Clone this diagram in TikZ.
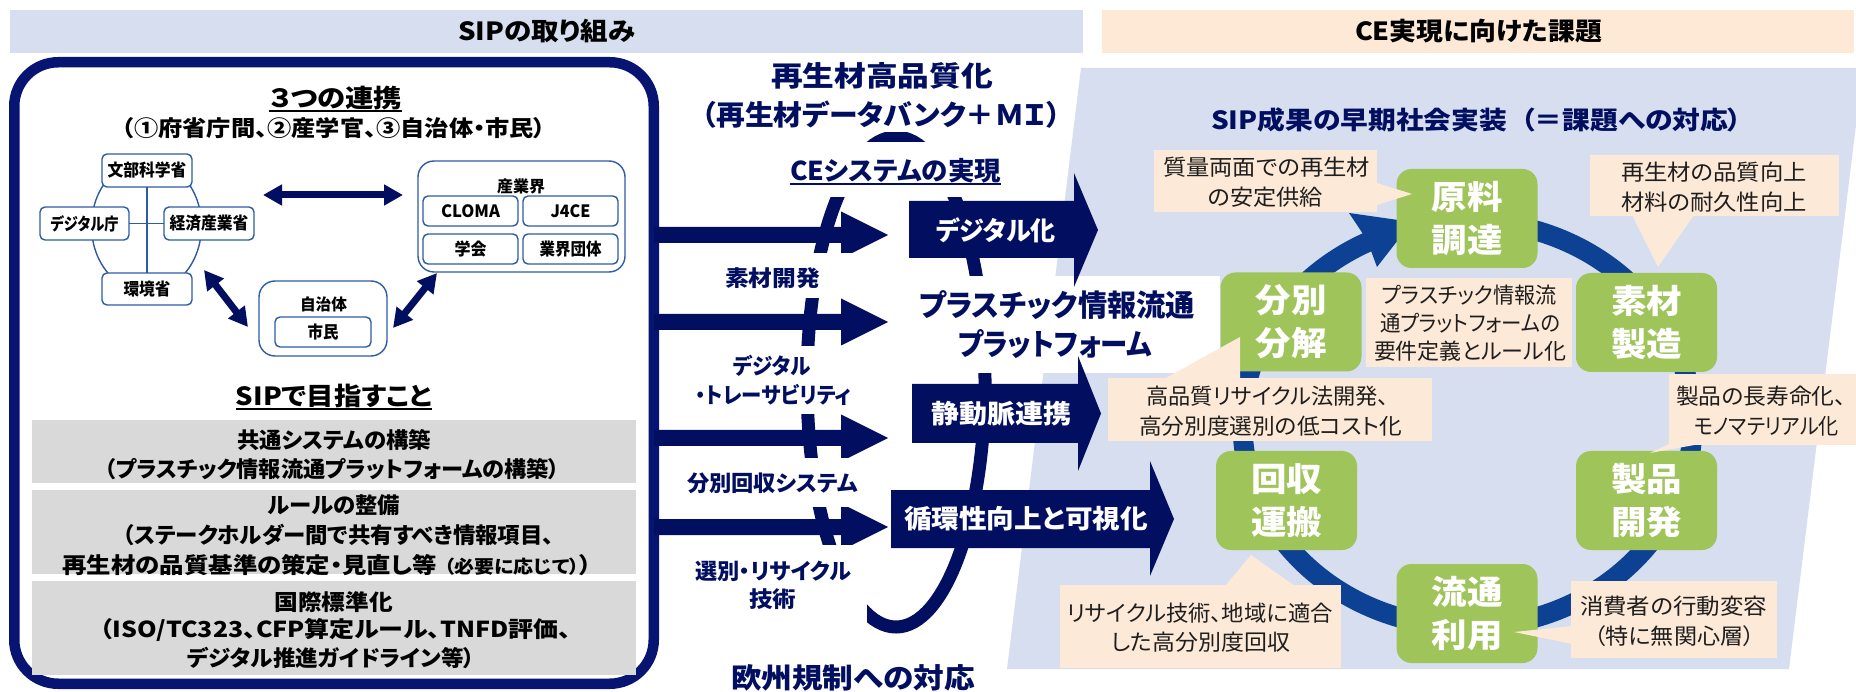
\documentclass[tikz,border=0pt]{standalone}
\usepackage{fontspec}
\usepackage{graphicx}
\usetikzlibrary{arrows.meta,shapes.geometric}
\newfontfamily\jp[RawFeature={+palt}]{Noto Sans CJK JP}
\newcommand\fsz[1]{\fontsize{#1}{#1}\selectfont}
\newcommand\fitw[2]{\resizebox{#1pt}{\height}{#2}}
\definecolor{navy}{HTML}{020F60}
\definecolor{boxnavy}{HTML}{071472}
\definecolor{hdrL}{HTML}{D6DEEF}
\definecolor{hdrR}{HTML}{FDE9D6}
\definecolor{panel}{HTML}{D6DEEF}
\definecolor{peach}{HTML}{FDE9D7}
\definecolor{grn}{HTML}{9EC45A}
\definecolor{ringc}{HTML}{0D4193}
\definecolor{thinb}{HTML}{2E5BA6}
\definecolor{grayb}{HTML}{D9D9D9}
\definecolor{ink}{HTML}{1E1E1E}
\begin{document}
\begin{tikzpicture}[x=1pt,y=-1pt,every node/.style={inner sep=0pt,outer sep=0pt},
 hd/.style={font=\jp\bfseries\fsz{25},text=black},
 lt/.style={font=\jp\bfseries\fsz{22},text=black},
 cb/.style={draw=thinb,line width=1.4,fill=white,rounded corners=5,font=\jp\bfseries\fsz{17},text=black},
 grp/.style={draw=thinb,line width=1.4,fill=white,rounded corners=16},
 mt/.style={font=\jp\bfseries\fsz{22},text=navy},
 bigt/.style={font=\jp\bfseries\fsz{28},text=navy},
 bt/.style={font=\jp\bfseries\fsz{26},text=white},
 gb/.style={fill=grn,rounded corners=15,minimum width=141,minimum height=99,font=\jp\bfseries\fontsize{33}{43}\selectfont,text=white,align=center},
 ct/.style={font=\jp\fsz{22},text=ink},
 dbl/.style={navy,line width=7,{Triangle[length=19pt,width=20pt]}-{Triangle[length=19pt,width=20pt]}},
 uline/.style={line width=2}]
\useasboundingbox (0,0) rectangle (1856,692);
\fill[white] (0,0) rectangle (1856,692);

% headers
\fill[hdrL] (10,10) rectangle (1083,53);
\node[hd] (hL) at (546.5,31.5) {\fitw{177}{SIPの取り組み}};
\fill[hdrR] (1102,10) rectangle (1854,53);
\node[hd] (hR) at (1478.5,31.5) {\fitw{247}{CE実現に向けた課題}};

% right panel
\fill[panel] (1081,68) -- (1856,68) -- (1856,125) -- (1789,669) -- (1007,669) -- cycle;

% middle ring (behind)
\draw[navy,line width=13] (896,382) ellipse [x radius=89, y radius=245];
% white band behind the platform text
\fill[white] (900,276) rectangle (1220,373);

% cycle ring
\draw[ringc,line width=20] (1467.5,424) ellipse [x radius=225, y radius=203];
\fill[ringc] (1349,213) -- (1412,222) -- (1377,267) -- (1367,240) -- cycle;

% left box
\draw[boxnavy,line width=10.5,rounded corners=44] (14.25,62.25) rectangle (653.75,683.75);

\node[hd] (t3) at (335.5,98.5) {\fitw{133}{３つの連携}};
\draw[uline] ([yshift=-1pt]t3.south west) -- ([yshift=-1pt]t3.south east);
\node[lt] (t4) at (334,128) {\fitw{424}{（①府省庁間、②産学官、③自治体・市民）}};

% ministries cluster
\node[draw=thinb,line width=1.4,ellipse,minimum width=110,minimum height=132] (mincl) at (146.5,226) {};
\node[cb,minimum width=90,minimum height=33] (mon) at (147,170.5) {\fitw{79}{文部科学省}};
\node[cb,minimum width=89,minimum height=33] (dig) at (84.5,223.5) {\fitw{68}{デジタル庁}};
\node[cb,minimum width=90,minimum height=33] (meti) at (209,223.5) {\fitw{79}{経済産業省}};
\node[cb,minimum width=90,minimum height=32] (env) at (147,289) {\fitw{47}{環境省}};
\draw[thinb,line width=1.4] (mon.south) -- (env.north);
\draw[thinb,line width=1.4] (dig.east) -- (meti.west);

% industry group
\node[grp,minimum width=207,minimum height=111] (ind) at (521.5,216.5) {};
\node[font=\jp\bfseries\fsz{16}] (indl) at (521,186) {\fitw{48}{産業界}};
\node[cb,minimum width=95,minimum height=30] (cloma) at (470.5,211) {\fitw{59}{CLOMA}};
\node[cb,minimum width=95,minimum height=30] (j4ce) at (570.5,211) {\fitw{40}{J4CE}};
\node[cb,minimum width=95,minimum height=30] (gak) at (470.5,249) {\fitw{32}{学会}};
\node[cb,minimum width=95,minimum height=30] (gyo) at (570.5,249) {\fitw{62}{業界団体}};

% municipality group
\node[grp,minimum width=128,minimum height=75] (muni) at (323,318.5) {};
\node[font=\jp\bfseries\fsz{16}] (munil) at (323.5,304) {\fitw{47}{自治体}};
\node[cb,minimum width=96,minimum height=30] (cit) at (323,332) {\fitw{31}{市民}};

% double arrows
\coordinate (ha1) at (263,195); \coordinate (ha2) at (403,195);
\coordinate (da1) at (204,270); \coordinate (da2) at (248,327);
\coordinate (db1) at (393,328); \coordinate (db2) at (437,273);
\draw[dbl] (ha1) -- (ha2);
\draw[dbl] (da1) -- (da2);
\draw[dbl] (db1) -- (db2);

% SIPで目指すこと
\node[hd] (t8) at (334,396) {\fitw{196}{SIPで目指すこと}};
\draw[uline] ([yshift=-1pt]t8.south west) -- ([yshift=-1pt]t8.south east);

\fill[grayb] (32,420) rectangle (636,483);
\fill[grayb] (32,490) rectangle (636,574);
\fill[grayb] (32,581) rectangle (636,675);
\node[lt] (g1a) at (334,440) {\fitw{194}{共通システムの構築}};
\node[lt] (g1b) at (332.5,469) {\fitw{455}{（プラスチック情報流通プラットフォームの構築）}};
\node[lt] (g2a) at (334,505) {\fitw{132}{ルールの整備}};
\node[lt] (g2b) at (338.5,535) {\fitw{431}{（ステークホルダー間で共有すべき情報項目、}};
\node[lt] (g2c) at (327,565) {\fitw{529}{再生材の品質基準の策定・見直し等\hspace{0.3em}{\fsz{18}（必要に応じて）}）}};
\node[lt] (g3a) at (333.75,602) {\fitw{118.5}{国際標準化}};
\node[lt] (g3b) at (335.5,630) {\fitw{471}{（ISO/TC323、CFP算定ルール、TNFD評価、}};
\node[lt] (g3c) at (331.25,658) {\fitw{287.5}{デジタル推進ガイドライン等）}};

% four arrows out of the box
\foreach \yy in {235,322,438,527}{
 \fill[navy] (654,\yy-8) -- (841,\yy-8) -- (841,\yy-23.5) -- (888,\yy) -- (841,\yy+23.5) -- (841,\yy+8) -- (654,\yy+8) -- cycle;
}

% labels between arrows
\fill[white] (690,253) rectangle (890,298);
\node[mt] (l1) at (772.5,278.5) {\fitw{95}{素材開発}};
\fill[white] (690,346) rectangle (890,414);
\node[mt] (l2a) at (772,366) {\fitw{78}{デジタル}};
\node[mt] (l2b) at (773.5,394.5) {\fitw{155}{・トレーサビリティ}};
\fill[white] (680,458) rectangle (890,507);
\node[mt] (l3) at (772.5,483) {\fitw{171}{分別回収システム}};
\fill[white] (690,545) rectangle (867,640);
\node[mt] (l4a) at (773,571) {\fitw{156}{選別・リサイクル}};
\node[mt] (l4b) at (772.5,599) {\fitw{47}{技術}};

% top texts
\fill[white] (700,55) rectangle (1063,132);
\node[bigt] (m1) at (882,75.5) {\fitw{222}{再生材高品質化}};
\node[bigt] (m2) at (881.5,114.5) {\fitw{359}{（再生材データバンク＋ＭＩ）}};
\fill[white] (785,142) rectangle (1005,197);
\node[bigt,font=\jp\bfseries\fsz{26}] (m3) at (895.5,170.5) {\fitw{211}{CEシステムの実現}};
\draw[uline,navy] ([yshift=-1pt]m3.south west) -- ([yshift=-1pt]m3.south east);
\node[bigt] (m4) at (853,677.5) {\fitw{244}{欧州規制への対応}};

% block arrows
\fill[navy] (909,201) -- (1074,201) -- (1074,173) -- (1098,230) -- (1074,287) -- (1074,258) -- (909,258) -- cycle;
\node[bt] (b1) at (996,230) {\fitw{120}{デジタル化}};
\fill[navy] (912,384) -- (1078,384) -- (1078,356) -- (1101,413.5) -- (1078,471) -- (1078,443) -- (912,443) -- cycle;
\node[bt] (b2) at (1001,414) {\fitw{140}{静動脈連携}};
\fill[navy] (891,490) -- (1150,490) -- (1150,461) -- (1174,519) -- (1150,576) -- (1150,548) -- (891,548) -- cycle;
\node[bt] (b3) at (1026,519) {\fitw{244}{循環性向上と可視化}};

\node[bigt,font=\jp\bfseries\fsz{30}] (p1) at (1057,305) {\fitw{276}{プラスチック情報流通}};
\node[bigt,font=\jp\bfseries\fsz{30}] (p2) at (1055,344) {\fitw{194}{プラットフォーム}};

% right panel title
\node[bigt,font=\jp\bfseries\fsz{25}] (r0) at (1476.5,120) {\fitw{531}{SIP成果の早期社会実装\hspace{0.5em}（＝課題への対応）}};

% green boxes
\node[gb] (gen) at (1467,218.5) {\fitw{71}{原料}\\\fitw{71}{調達}};
\node[gb] (bun) at (1291,322) {\fitw{71}{分別}\\\fitw{71}{分解}};
\node[gb] (soz) at (1646.5,322.5) {\fitw{71}{素材}\\\fitw{71}{製造}};
\node[gb] (kai) at (1286.5,500.5) {\fitw{71}{回収}\\\fitw{71}{運搬}};
\node[gb] (sei) at (1646.5,500.5) {\fitw{71}{製品}\\\fitw{71}{開発}};
\node[gb] (ryu) at (1467,613.5) {\fitw{71}{流通}\\\fitw{71}{利用}};

% callouts
\fill[peach] (1154,150) rectangle (1377,212);
\fill[peach] (1377,183) -- (1412,194) -- (1377,205) -- cycle;
\node[ct] (c1a) at (1266.5,167) {\fitw{207}{質量両面での再生材}};
\node[ct] (c1b) at (1265.5,197) {\fitw{115}{の安定供給}};

\fill[peach] (1590,155) rectangle (1839,216);
\fill[peach] (1632,215) -- (1658,267) -- (1694,215) -- cycle;
\node[ct] (c2a) at (1714,172) {\fitw{186}{再生材の品質向上}};
\node[ct] (c2b) at (1714,202) {\fitw{186}{材料の耐久性向上}};

\fill[peach] (1366,278) rectangle (1572,367);
\node[ct] (c3a) at (1469.5,295) {\fitw{175}{プラスチック情報流}};
\node[ct] (c3b) at (1470,323) {\fitw{180}{通プラットフォームの}};
\node[ct] (c3c) at (1470,351) {\fitw{192}{要件定義とルール化}};

\fill[peach] (1108,378) rectangle (1432,441);
\fill[peach] (1164,379) -- (1240,337) -- (1240,379) -- cycle;
\node[ct] (c4a) at (1267.5,396) {\fitw{243}{高品質リサイクル法開発、}};
\node[ct] (c4b) at (1270.5,426) {\fitw{263}{高分別度選別の低コスト化}};

\fill[peach] (1669,374) rectangle (1856,445);
\fill[peach] (1669,444) -- (1650,453) -- (1700,444) -- cycle;
\node[ct] (c5a) at (1761,396) {\fitw{170}{製品の長寿命化、}};
\node[ct] (c5b) at (1766.5,426) {\fitw{145}{モノマテリアル化}};

\fill[peach] (1060,585) rectangle (1341,668);
\fill[peach] (1225,586) -- (1251,555) -- (1295,586) -- cycle;
\node[ct] (c6a) at (1200,613) {\fitw{266}{リサイクル技術、地域に適合}};
\node[ct] (c6b) at (1200.5,642) {\fitw{179}{した高分別度回収}};

\fill[peach] (1571,581) rectangle (1777,658);
\fill[peach] (1572,626) -- (1514,632) -- (1572,644) -- cycle;
\node[ct] (c7a) at (1673.5,606) {\fitw{187}{消費者の行動変容}};
\node[ct] (c7b) at (1674.5,636) {\fitw{161}{（特に無関心層）}};
\end{tikzpicture}
\end{document}
